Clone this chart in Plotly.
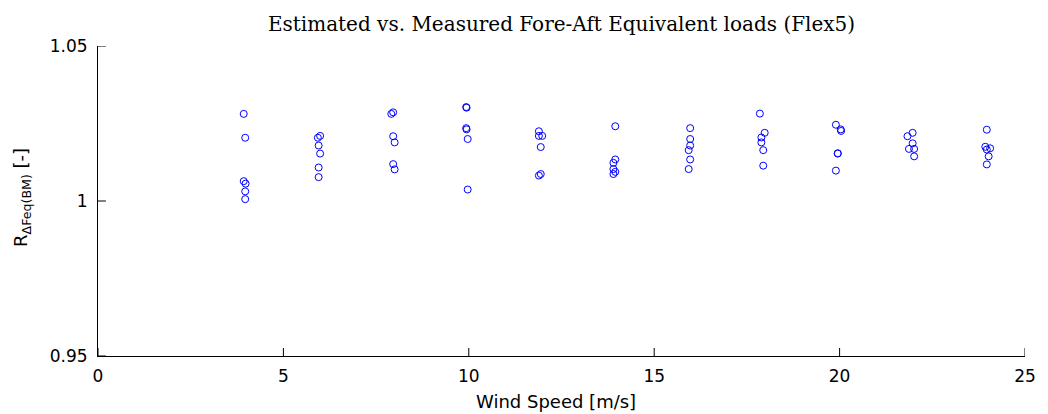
import plotly.graph_objects as go

# Wind speed bins [m/s] and the ratio of estimated to measured equivalent loads
ws_4 = [3.93, 3.97, 3.93, 3.98, 3.97, 3.97]
r_4 = [1.0281, 1.0204, 1.0064, 1.0056, 1.0031, 1.0006]

ws_6 = [5.93, 5.99, 5.95, 5.99, 5.95, 5.95]
r_6 = [1.0204, 1.0210, 1.0179, 1.0153, 1.0108, 1.0077]

ws_8 = [7.91, 7.96, 7.96, 8.00, 7.96, 8.00]
r_8 = [1.0281, 1.0286, 1.0209, 1.0189, 1.0119, 1.0102]

ws_10 = [9.93, 9.94, 9.93, 9.94, 9.97, 9.97]
r_10 = [1.0303, 1.0301, 1.0235, 1.0231, 1.0200, 1.0037]

ws_12 = [11.89, 11.89, 11.98, 11.94, 11.89, 11.94]
r_12 = [1.0225, 1.0210, 1.0210, 1.0174, 1.0082, 1.0087]

ws_14 = [13.95, 13.95, 13.90, 13.90, 13.95, 13.90]
r_14 = [1.0241, 1.0134, 1.0123, 1.0103, 1.0094, 1.0087]

ws_16 = [15.97, 15.97, 15.97, 15.93, 15.97, 15.93]
r_16 = [1.0235, 1.0200, 1.0179, 1.0164, 1.0134, 1.0103]

ws_18 = [17.85, 17.98, 17.89, 17.89, 17.94, 17.94]
r_18 = [1.0282, 1.0220, 1.0205, 1.0189, 1.0164, 1.0114]

ws_20 = [19.90, 20.03, 20.04, 19.95, 19.95, 19.90]
r_20 = [1.0246, 1.0231, 1.0226, 1.0154, 1.0153, 1.0098]

ws_22 = [21.83, 21.97, 21.97, 21.87, 22.01, 22.01]
r_22 = [1.0209, 1.0220, 1.0186, 1.0168, 1.0168, 1.0144]

ws_24 = [23.97, 23.93, 23.97, 24.06, 24.02, 23.97]
r_24 = [1.0230, 1.0175, 1.0166, 1.0170, 1.0144, 1.0118]

x_ticks = [0, 5, 10, 15, 20, 25]
y_ticks = [0.95, 1, 1.05]
y_tick_labels = ["0.95", "1", "1.05"]

wind_speed = ws_4 + ws_6 + ws_8 + ws_10 + ws_12 + ws_14 + ws_16 + ws_18 + ws_20 + ws_22 + ws_24
ratio = r_4 + r_6 + r_8 + r_10 + r_12 + r_14 + r_16 + r_18 + r_20 + r_22 + r_24

fig = go.Figure()
fig.add_trace(go.Scatter(
    x=wind_speed,
    y=ratio,
    mode="markers",
    marker=dict(symbol="circle-open", size=7, color="#0000ff",
                line=dict(width=1, color="#0000ff")),
    showlegend=False,
))

sans = "DejaVu Sans, sans-serif"
tick_font = dict(family=sans, size=17, color="#000000")
label_font = dict(family=sans, size=18, color="#000000")

W, H = 1048, 414
ML, MR, MT, MB = 98, 12, 46, 58
plot_w = W - ML - MR
plot_h = H - MT - MB
TICK_LEN = 8  # inward tick length in px

# Inward tick marks, placed at the tick values along each axis
tick_shapes = []
for xv in x_ticks:
    tick_shapes.append(dict(
        type="line", xref="x", yref="paper",
        x0=xv, x1=xv, y0=0, y1=TICK_LEN / plot_h,
        line=dict(color="#000000", width=1),
    ))
for yv in y_ticks:
    tick_shapes.append(dict(
        type="line", xref="paper", yref="y",
        x0=0, x1=TICK_LEN / plot_w, y0=yv, y1=yv,
        line=dict(color="#000000", width=1),
    ))

fig.update_layout(
    width=W,
    height=H,
    margin=dict(l=ML, r=MR, t=MT, b=MB),
    paper_bgcolor="#ffffff",
    plot_bgcolor="#ffffff",
    title=dict(
        text="Estimated vs. Measured Fore-Aft Equivalent loads (Flex5)",
        font=dict(family="DejaVu Serif, serif", size=20, color="#000000"),
        x=0.5, xref="paper", xanchor="center",
        y=1 - 24 / H, yref="container", yanchor="middle",
    ),
    xaxis=dict(
        range=[0, 25],
        tickmode="array",
        tickvals=x_ticks,
        ticks="",
        showline=True, linecolor="#000000", linewidth=1,
        showgrid=False, zeroline=False, mirror=False,
        tickfont=tick_font,
        ticklabelstandoff=5,
    ),
    yaxis=dict(
        range=[0.95, 1.05],
        tickmode="array",
        tickvals=y_ticks,
        ticktext=y_tick_labels,
        ticks="",
        showline=True, linecolor="#000000", linewidth=1,
        showgrid=False, zeroline=False, mirror=False,
        tickfont=tick_font,
        ticklabelstandoff=6,
    ),
    shapes=tick_shapes,
    annotations=[
        dict(
            text="Wind Speed [m/s]",
            font=label_font,
            xref="paper", yref="paper",
            x=(561 - ML) / plot_w, y=(MT + plot_h - 401) / plot_h,
            xanchor="center", yanchor="middle",
            showarrow=False,
        ),
        dict(
            text="R<sub>ΔFeq(BM)</sub> [-]",
            font=label_font,
            textangle=-90,
            xref="paper", yref="paper",
            x=(21 - ML) / plot_w, y=(MT + plot_h - 197) / plot_h,
            xanchor="center", yanchor="middle",
            showarrow=False,
        ),
    ],
)

fig.write_html("out.html")
